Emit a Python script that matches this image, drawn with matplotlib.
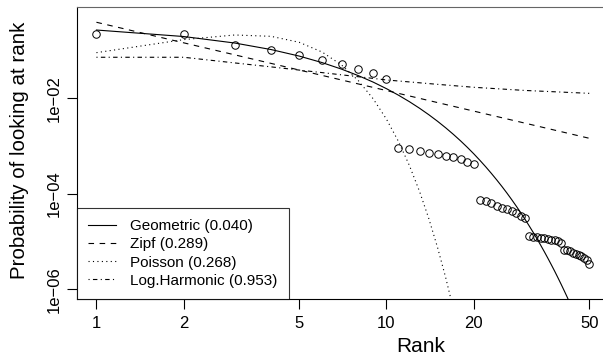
import matplotlib
matplotlib.use("Agg")
import matplotlib.pyplot as plt
from matplotlib.lines import Line2D

plt.rcParams['font.family'] = ['Liberation Sans', 'DejaVu Sans']
plt.rcParams['lines.scale_dashes'] = False

# observed probabilities by rank
ranks = list(range(1, 51))
observed = [0.224, 0.226, 0.133, 0.103, 0.0796, 0.0634, 0.0515, 0.0417, 0.0334, 0.0257,
            8.98e-4, 8.67e-4, 8.0e-4, 7.26e-4, 6.82e-4, 6.28e-4, 5.81e-4, 5.28e-4, 4.64e-4, 4.15e-4,
            7.52e-5, 7.06e-5, 6.32e-5, 5.63e-5, 5.12e-5, 4.73e-5, 4.36e-5, 3.91e-5, 3.48e-5, 3.07e-5,
            1.318e-5, 1.275e-5, 1.245e-5, 1.21e-5, 1.175e-5, 1.142e-5, 1.104e-5, 1.062e-5, 1.012e-5, 9.33e-6,
            6.82e-6, 6.5e-6, 6.2e-6, 5.9e-6, 5.62e-6, 5.28e-6, 4.91e-6, 4.52e-6, 4.05e-6, 3.47e-6]

# fitted models
geom_ranks = list(range(1, 45))
geometric = [0.269, 0.1965, 0.1436, 0.1049, 0.0766, 0.0559, 0.0408, 0.0298, 0.0218, 0.0159,
             0.01161, 0.00848, 0.00619, 0.00452, 0.00330, 0.00241, 0.00176, 0.001287, 0.000940, 0.000687,
             0.000501, 0.000366, 0.000267, 0.000195, 0.0001426, 0.0001042, 7.60e-5, 5.55e-5, 4.06e-5, 2.96e-5,
             2.16e-5, 1.58e-5, 1.153e-5, 8.42e-6, 6.15e-6, 4.49e-6, 3.28e-6, 2.40e-6, 1.75e-6, 1.278e-6,
             9.33e-7, 6.82e-7, 4.98e-7, 3.63e-7]

zipf_ranks = [1, 2, 5, 10, 20, 50]
zipf = [0.391, 0.145, 0.0391, 0.01452, 0.00539, 0.001455]

pois_ranks = list(range(1, 19))
poisson = [0.0903, 0.1694, 0.2117, 0.1985, 0.1489, 0.0930, 0.0498, 0.02337, 0.00973, 0.00365,
           0.001245, 3.89e-4, 1.122e-4, 3.0e-5, 7.5e-6, 1.76e-6, 3.88e-7, 8.0e-8]

lh_ranks = [1, 2, 3, 4, 5, 6, 7, 8, 9, 10, 15, 20, 30, 40, 50]
logharm = [0.0723, 0.0723, 0.055, 0.0455, 0.039, 0.0345, 0.031, 0.0283, 0.0261, 0.0242,
           0.0196, 0.0170, 0.0146, 0.0135, 0.0127]

legend_labels = ["Geometric (0.040)", "Zipf (0.289)", "Poisson (0.268)", "Log.Harmonic (0.953)"]
xticks = [1, 2, 5, 10, 20, 50]
yticks = [1e-2, 1e-4, 1e-6]
ytick_labels = ["1e\u221202", "1e\u221204", "1e\u221206"]

W, H = 603, 358
fig = plt.figure(figsize=(W / 100, H / 100), dpi=100)
L, R, T, B = 76.7, 609.0, 6.7, 299.3
ax = fig.add_axes([L / W, 1 - B / H, (R - L) / W, (B - T) / H])
ax.set_xscale('log')
ax.set_yscale('log')
ax.set_xlim(0.855, 58.5)
ax.set_ylim(6.18e-7, 0.828)

lw = 0.8
ls_dash = (0, (4, 4))
ls_dot = (0, (0.8, 2.4))
ls_dashdot = (0, (0.8, 2.4, 3.2, 2.4))

ax.plot(ranks, observed, linestyle='none', marker='o', markersize=5.4,
        markerfacecolor='none', markeredgecolor='black', markeredgewidth=0.7)
ax.plot(geom_ranks, geometric, color='black', lw=lw, linestyle='-')
ax.plot(zipf_ranks, zipf, color='black', lw=lw, linestyle=ls_dash)
ax.plot(pois_ranks, poisson, color='black', lw=lw, linestyle=ls_dot)
ax.plot(lh_ranks, logharm, color='black', lw=lw, linestyle=ls_dashdot)

for s in ['top', 'right', 'left', 'bottom']:
    ax.spines[s].set_linewidth(0.8)
ax.spines['top'].set_color('#666666')

ax.set_xticks(xticks)
ax.set_xticklabels([str(t) for t in xticks])
ax.xaxis.set_minor_locator(matplotlib.ticker.NullLocator())
ax.set_yticks(yticks)
ax.set_yticklabels(ytick_labels, rotation=90, va='center')
ax.yaxis.set_minor_locator(matplotlib.ticker.NullLocator())
ax.tick_params(axis='both', direction='out', length=7, width=0.8, labelsize=12, color='black')
ax.tick_params(axis='x', pad=5)
ax.tick_params(axis='y', pad=4)

fig.text(421 / W, 1 - 346 / H, "Rank", ha='center', va='center', fontsize=15)
fig.text(20 / W, 1 - 150 / H, "Probability of looking at rank", ha='center', va='center',
         rotation=90, fontsize=14.8)

handles = [Line2D([], [], color='black', lw=lw, linestyle='-'),
           Line2D([], [], color='black', lw=lw, linestyle=ls_dash),
           Line2D([], [], color='black', lw=lw, linestyle=ls_dot),
           Line2D([], [], color='black', lw=lw, linestyle=ls_dashdot)]
leg = ax.legend(handles, legend_labels, loc='lower left', bbox_to_anchor=(0, 0),
                fontsize=11, frameon=True, fancybox=False, borderaxespad=0,
                handlelength=1.85, handletextpad=0.9, labelspacing=0.28,
                borderpad=0.75)
leg.get_frame().set_edgecolor('black')
leg.get_frame().set_linewidth(0.8)

fig.savefig('out.png', dpi=100)
